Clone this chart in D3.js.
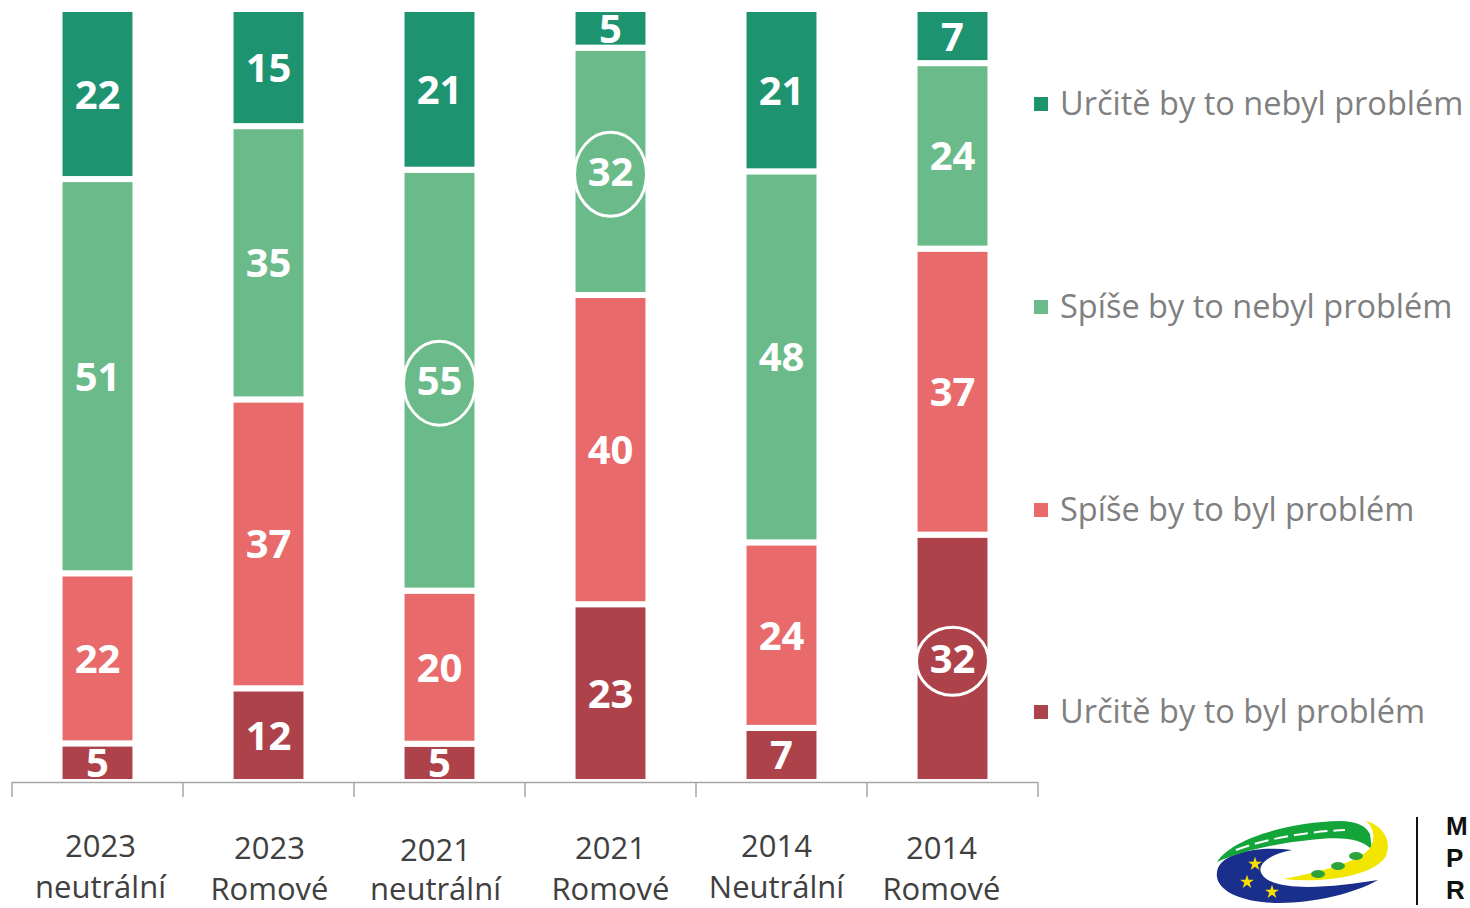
<!DOCTYPE html>
<html>
<head>
<meta charset="utf-8">
<script src="https://cdn.jsdelivr.net/npm/d3@7"></script>
<style>
  html, body { margin: 0; padding: 0; background: #fff; overflow: hidden; }
  svg { display: block; }
</style>
</head>
<body>
<svg id="chart" width="1470" height="908"></svg>
<script>
// ---- data ----
const categories = [
  ["2023", "neutrální"],
  ["2023", "Romové"],
  ["2021", "neutrální"],
  ["2021", "Romové"],
  ["2014", "Neutrální"],
  ["2014", "Romové"]
];
const seriesNames = [
  "Určitě by to nebyl problém",
  "Spíše by to nebyl problém",
  "Spíše by to byl problém",
  "Určitě by to byl problém"
];
const urciteNebyl = [22, 15, 21, 5, 21, 7];
const spiseNebyl  = [51, 35, 55, 32, 48, 24];
const spiseByl    = [22, 37, 20, 40, 24, 37];
const urciteByl   = [5, 12, 5, 23, 7, 32];
const seriesColors = ["#1d9370", "#6bbb8a", "#e96a6b", "#ae424a"];
// highlighted (circled) labels: [category index, series index]
const circled = [[2, 1], [3, 1], [5, 3]];

// ---- layout ----
const svg = d3.select("#chart");
const seriesValues = [urciteNebyl, spiseNebyl, spiseByl, urciteByl];
const catKeys = categories.map(c => c.join(" "));

const x = d3.scaleBand().domain(catKeys).range([12, 1038])
  .paddingInner(0.591).paddingOuter(0.2955);
const y = d3.scaleLinear().domain([0, 1]).range([782, 9]);

// build stacked (100%) data; bottom series = last
const rows = catKeys.map((k, i) => {
  const o = { key: k };
  seriesNames.forEach((s, j) => o[s] = seriesValues[j][i]);
  return o;
});
const stackOrder = seriesNames.slice().reverse();
const stack = d3.stack().keys(stackOrder).offset(d3.stackOffsetExpand);
const stacked = stack(rows);

const gBars = svg.append("g");
stacked.forEach(layer => {
  const si = seriesNames.indexOf(layer.key);
  gBars.selectAll(null).data(layer).enter().append("rect")
    .attr("x", d => x(d.data.key) - 3)
    .attr("width", x.bandwidth() + 6)
    .attr("y", d => y(d[1]))
    .attr("height", d => y(d[0]) - y(d[1]))
    .attr("fill", seriesColors[si])
    .attr("stroke", "#fff")
    .attr("stroke-width", 6);
});

// value labels
const gLab = svg.append("g");
stacked.forEach(layer => {
  const si = seriesNames.indexOf(layer.key);
  layer.forEach((d, ci) => {
    const cx = x(d.data.key) + x.bandwidth() / 2;
    const cy = (y(d[0]) + y(d[1])) / 2;
    gLab.append("text")
      .attr("x", cx).attr("y", cy + 14.5)
      .attr("text-anchor", "middle")
      .attr("font-family", "'Open Sans', sans-serif")
      .attr("font-weight", 700)
      .attr("font-size", 40)
      .attr("fill", "#fff")
      .text(seriesValues[si][ci]);
    if (circled.some(c => c[0] === ci && c[1] === si)) {
      gLab.append("ellipse")
        .attr("cx", cx).attr("cy", cy + 3)
        .attr("rx", 36).attr("ry", si === 3 ? 34 : 42)
        .attr("fill", "none").attr("stroke", "#fff").attr("stroke-width", 3);
    }
  });
});

// x axis: baseline + ticks at band boundaries
const gAxis = svg.append("g");
const r0 = x.range()[0], step = x.step();
gAxis.append("line")
  .attr("x1", r0).attr("x2", x.range()[1])
  .attr("y1", 782.5).attr("y2", 782.5)
  .attr("stroke", "#a6a6a6").attr("stroke-width", 1.5);
d3.range(catKeys.length + 1).forEach(i => {
  const tx = r0 + i * step;
  gAxis.append("line")
    .attr("x1", tx).attr("x2", tx).attr("y1", 782).attr("y2", 797)
    .attr("stroke", "#a6a6a6").attr("stroke-width", 1.5);
});
const yOff = [0, 2, 2, 2, 0, 2];
const xOff = [3, 1, -4, 0, -5, -11];
categories.forEach((c, i) => {
  const cx = x(catKeys[i]) + x.bandwidth() / 2 + xOff[i];
  const t = gAxis.append("text")
    .attr("text-anchor", "middle")
    .attr("font-family", "'Open Sans', sans-serif")
    .attr("font-size", 31)
    .attr("fill", "#404040");
  t.append("tspan").attr("x", cx).attr("y", 857 + yOff[i] + (i === 2 ? 2 : 0)).text(c[0]);
  t.append("tspan").attr("x", cx).attr("y", 898 + yOff[i]).text(c[1]);
});

// legend
const legY = [104, 307, 510, 712];
const gLeg = svg.append("g");
seriesNames.forEach((s, i) => {
  gLeg.append("rect")
    .attr("x", 1034).attr("y", legY[i] - 7).attr("width", 14).attr("height", 14)
    .attr("fill", seriesColors[i]);
  gLeg.append("text")
    .attr("x", 1060).attr("y", legY[i] + 11)
    .attr("font-family", "'Open Sans', sans-serif")
    .attr("font-size", 32.5)
    .attr("fill", "#7f7f7f")
    .text(s);
});

// logo (decorative)
const gLogo = svg.append("g");
// blue crescent
gLogo.append("path")
  .attr("d", "M1218,868 C1225,852 1260,846 1292,850 C1262,856 1252,870 1268,880 C1290,892 1340,886 1378,880 C1350,896 1300,906 1262,902 C1228,898 1212,884 1218,868 Z")
  .attr("fill", "#1a2f8c");
// green swoosh
gLogo.append("path")
  .attr("d", "M1217,862 C1232,838 1290,822 1340,821 C1356,821 1366,826 1370,834 L1372,850 C1362,838 1340,836 1310,840 C1270,844 1240,852 1217,862 Z")
  .attr("fill", "#14a53a");
gLogo.append("path")
  .attr("d", "M1236,850 C1262,840 1300,832 1345,830")
  .attr("fill", "none").attr("stroke", "#fff").attr("stroke-width", 2)
  .attr("stroke-dasharray", "14,6");
// yellow crescent
gLogo.append("path")
  .attr("d", "M1366,821 C1384,826 1392,842 1386,856 C1376,874 1330,884 1283,879 C1320,872 1360,862 1370,848 C1376,838 1374,828 1366,821 Z")
  .attr("fill", "#f2e500");
// trees
[[1318, 874], [1338, 866], [1356, 856]].forEach(p => {
  gLogo.append("ellipse").attr("cx", p[0]).attr("cy", p[1]).attr("rx", 7).attr("ry", 4).attr("fill", "#2fa33b");
});
// stars
const star = d3.symbol().type(d3.symbolStar).size(60);
[[1255, 864], [1247, 882], [1272, 892]].forEach(p => {
  gLogo.append("path").attr("d", star()).attr("transform", `translate(${p[0]},${p[1]})`).attr("fill", "#f5e000");
});
gLogo.append("line").attr("x1", 1417).attr("x2", 1417).attr("y1", 817).attr("y2", 905)
  .attr("stroke", "#111").attr("stroke-width", 2);
["M", "P", "R"].forEach((s, i) => {
  gLogo.append("text")
    .attr("x", 1446).attr("y", 835 + i * 32)
    .attr("font-family", "'Liberation Sans', sans-serif")
    .attr("font-weight", 700).attr("font-size", 26).attr("fill", "#111")
    .text(s);
});
</script>
</body>
</html>
